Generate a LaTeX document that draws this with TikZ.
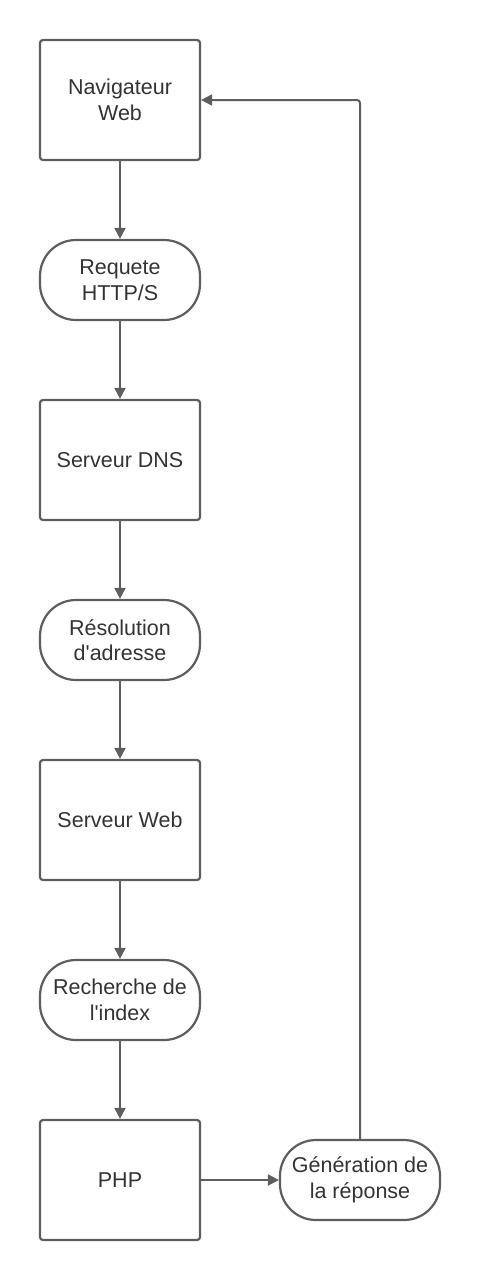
\documentclass[tikz,border=0pt]{standalone}
\usepackage{fontspec}
\setmainfont{Liberation Sans}
\usetikzlibrary{arrows.meta}
\definecolor{edge}{HTML}{5E5E5E}
\definecolor{txt}{HTML}{333333}
\begin{document}
\begin{tikzpicture}[x=1pt,y=-1pt,
  box/.style={draw=edge,line width=2.2pt,rounded corners=3pt,minimum width=160pt,minimum height=120pt,inner sep=0pt,align=center,text=txt,font=\fontsize{21.5}{25.5}\selectfont},
  term/.style={draw=edge,line width=2.2pt,rounded corners=36pt,minimum width=160pt,minimum height=80pt,inner sep=0pt,align=center,text=txt,font=\fontsize{21.5}{25.5}\selectfont},
  conn/.style={draw=edge,line width=2pt,-{Triangle[length=11pt,width=11pt]},rounded corners=3pt}]
\useasboundingbox (0,0) rectangle (480,1280);
\node[box] (nav) at (120,100) {Navigateur\\Web};
\node[term] (req) at (120,280) {Requete\\HTTP/S};
\node[box] (dns) at (120,460) {Serveur DNS};
\node[term] (res) at (120,640) {Résolution\\d\textquotesingle adresse};
\node[box] (web) at (120,820) {Serveur Web};
\node[term] (rec) at (120,1000) {Recherche de\\l\textquotesingle index};
\node[box] (php) at (120,1180) {PHP};
\node[term] (gen) at (360,1180) {Génération de\\la réponse};
\draw[conn] (nav) -- (req);
\draw[conn] (req) -- (dns);
\draw[conn] (dns) -- (res);
\draw[conn] (res) -- (web);
\draw[conn] (web) -- (rec);
\draw[conn] (rec) -- (php);
\draw[conn] (php) -- (gen);
\draw[conn] (gen.north) |- (nav.east);
\end{tikzpicture}
\end{document}
